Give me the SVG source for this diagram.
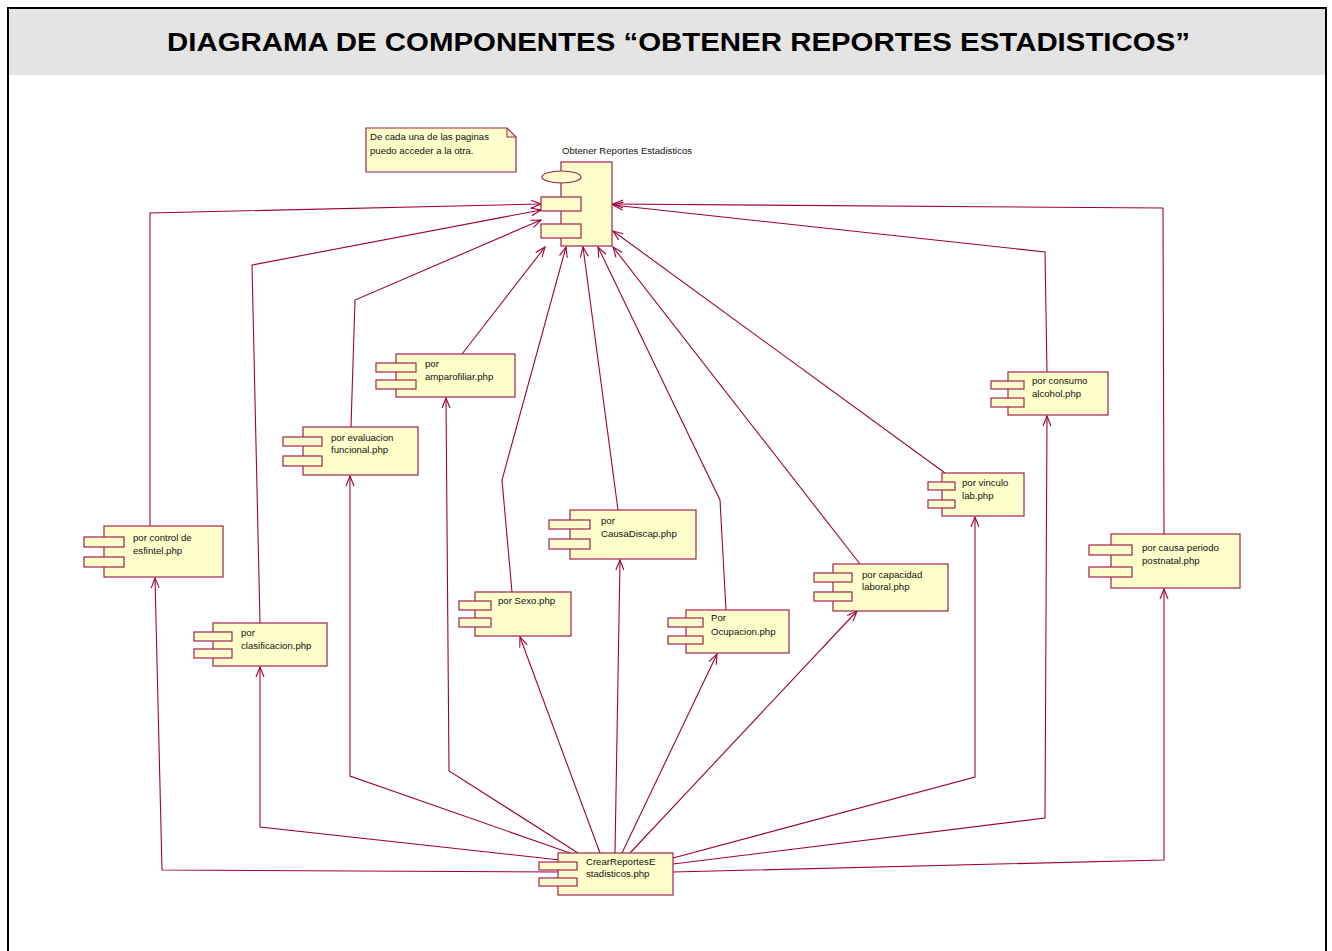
<svg xmlns="http://www.w3.org/2000/svg" width="1332" height="951" viewBox="0 0 1332 951">
  <style>
    .frame { fill: none; stroke: #000; stroke-width: 2; }
    .band { fill: #e4e4e4; }
    .title { font-family: "Liberation Sans", Arial, sans-serif; font-weight: bold; font-size: 26px; fill: #000; }
    .body { fill: #ffffcc; stroke: #a3204f; stroke-width: 1.2; }
    .port { fill: #ffffcc; stroke: #a3204f; stroke-width: 1.2; }
    .note { fill: #ffffcc; stroke: #a3204f; stroke-width: 1.2; }
    .lbl { font-family: "Liberation Sans", Arial, sans-serif; font-size: 9.6px; fill: #111; }
    .dep { fill: none; stroke: #a0003a; stroke-width: 1.1; marker-end: url(#open); }
  </style>
  <defs>
    <marker id="open" viewBox="0 0 12 10" refX="11" refY="5" markerWidth="12" markerHeight="10" markerUnits="userSpaceOnUse" orient="auto">
      <path d="M1,1 L11,5 L1,9" fill="none" stroke="#a0003a" stroke-width="1.1"/>
    </marker>
  </defs>

  <rect x="0" y="0" width="1332" height="951" fill="#fff"/>
  <!-- title band and frame -->
  <rect class="band" x="8" y="8" width="1318" height="67"/>
  <path class="frame" d="M8,951 V8 H1326 V951"/>
  <text class="title" x="167" y="51" textLength="1023" lengthAdjust="spacingAndGlyphs">DIAGRAMA DE COMPONENTES “OBTENER REPORTES ESTADISTICOS”</text>

  <!-- dependencies -->
  <g id="connectors">
    <!-- pages to the main component -->
    <path class="dep" d="M150,527 V213 L541,204"/>
    <path class="dep" d="M260,623 L252,265 L541,210"/>
    <path class="dep" d="M351,427 L355,300 L541,220"/>
    <path class="dep" d="M462,354 L545,247"/>
    <path class="dep" d="M512,592 L502,480 L566,247"/>
    <path class="dep" d="M618,510 L583,247"/>
    <path class="dep" d="M726,610 L720,500 L598,247"/>
    <path class="dep" d="M860,564 L613,247"/>
    <path class="dep" d="M945,473 L613,231"/>
    <path class="dep" d="M1047,372 L1045,252 L613,205"/>
    <path class="dep" d="M1164,534 L1163,208 L613,204"/>
    <!-- report builder to the pages -->
    <path class="dep" d="M560,872 L162,870 L155,578"/>
    <path class="dep" d="M560,860 L260,827 L260,667"/>
    <path class="dep" d="M570,853 L350,776 L350,476"/>
    <path class="dep" d="M578,853 L449,771 L446,398"/>
    <path class="dep" d="M600,853 L520,637"/>
    <path class="dep" d="M615,853 L620,560"/>
    <path class="dep" d="M622,853 L717,654"/>
    <path class="dep" d="M630,853 L857,611"/>
    <path class="dep" d="M673,858 L975,777 L975,517"/>
    <path class="dep" d="M673,864 L1045,818 L1047,416"/>
    <path class="dep" d="M673,872 L1164,860 L1164,589"/>
  </g>

  <!-- note -->
  <g id="note">
    <path class="note" d="M366,128 H507 L516,137 V172 H366 Z"/>
    <path d="M507,128 V137 H516" fill="none" stroke="#a3204f" stroke-width="1"/>
    <text class="lbl" x="370" y="140">De cada una de las paginas</text>
    <text class="lbl" x="370" y="154">puedo acceder a la otra.</text>
  </g>

  <!-- main component -->
  <g id="obtener-reportes">
    <text class="lbl" x="562" y="154">Obtener Reportes Estadisticos</text>
    <rect class="body" x="561" y="162" width="51" height="84"/>
    <ellipse class="port" cx="561.5" cy="177" rx="19.5" ry="6"/>
    <rect class="port" x="541" y="197" width="40" height="14"/>
    <rect class="port" x="541" y="224" width="40" height="14"/>
  </g>

  <g id="esfintel">
    <rect class="body" x="104" y="526" width="119" height="51"/>
    <rect class="port" x="84" y="537" width="40" height="10"/>
    <rect class="port" x="84" y="557" width="40" height="10"/>
    <text class="lbl" x="133" y="541">por control de</text>
    <text class="lbl" x="133" y="554">esfintel.php</text>
  </g>

  <g id="clasificacion">
    <rect class="body" x="213" y="623" width="114" height="43"/>
    <rect class="port" x="194" y="632" width="38" height="9"/>
    <rect class="port" x="194" y="649" width="38" height="9"/>
    <text class="lbl" x="241" y="636">por</text>
    <text class="lbl" x="241" y="649">clasificacion.php</text>
  </g>

  <g id="evaluacion">
    <rect class="body" x="303" y="427" width="115" height="48"/>
    <rect class="port" x="283" y="437" width="39" height="9"/>
    <rect class="port" x="283" y="456" width="39" height="10"/>
    <text class="lbl" x="331" y="441">por evaluacion</text>
    <text class="lbl" x="331" y="453">funcional.php</text>
  </g>

  <g id="amparofiliar">
    <rect class="body" x="396" y="354" width="119" height="43"/>
    <rect class="port" x="376" y="363" width="40" height="9"/>
    <rect class="port" x="376" y="380" width="40" height="9"/>
    <text class="lbl" x="425" y="367">por</text>
    <text class="lbl" x="425" y="380">amparofiliar.php</text>
  </g>

  <g id="sexo">
    <rect class="body" x="475" y="592" width="96" height="44"/>
    <rect class="port" x="459" y="601" width="32" height="9"/>
    <rect class="port" x="459" y="618" width="32" height="9"/>
    <text class="lbl" x="498" y="604">por Sexo.php</text>
  </g>

  <g id="causadiscap">
    <rect class="body" x="570" y="510" width="126" height="49"/>
    <rect class="port" x="549" y="520" width="41" height="9"/>
    <rect class="port" x="549" y="539" width="41" height="10"/>
    <text class="lbl" x="601" y="524">por</text>
    <text class="lbl" x="601" y="537">CausaDiscap.php</text>
  </g>

  <g id="ocupacion">
    <rect class="body" x="686" y="610" width="103" height="43"/>
    <rect class="port" x="668" y="618" width="35" height="9"/>
    <rect class="port" x="668" y="636" width="35" height="8"/>
    <text class="lbl" x="711" y="621">Por</text>
    <text class="lbl" x="711" y="635">Ocupacion.php</text>
  </g>

  <g id="capacidad">
    <rect class="body" x="833" y="564" width="115" height="47"/>
    <rect class="port" x="814" y="573" width="38" height="9"/>
    <rect class="port" x="814" y="592" width="38" height="9"/>
    <text class="lbl" x="862" y="578">por capacidad</text>
    <text class="lbl" x="862" y="590">laboral.php</text>
  </g>

  <g id="vinculo">
    <rect class="body" x="942" y="473" width="82" height="43"/>
    <rect class="port" x="928" y="482" width="27" height="8"/>
    <rect class="port" x="928" y="500" width="27" height="8"/>
    <text class="lbl" x="962" y="486">por vinculo</text>
    <text class="lbl" x="962" y="499">lab.php</text>
  </g>

  <g id="consumo-alcohol">
    <rect class="body" x="1008" y="372" width="100" height="43"/>
    <rect class="port" x="991" y="381" width="33" height="8"/>
    <rect class="port" x="991" y="398" width="33" height="9"/>
    <text class="lbl" x="1032" y="384">por consumo</text>
    <text class="lbl" x="1032" y="397">alcohol.php</text>
  </g>

  <g id="postnatal">
    <rect class="body" x="1111" y="534" width="129" height="54"/>
    <rect class="port" x="1089" y="545" width="43" height="10"/>
    <rect class="port" x="1089" y="567" width="43" height="10"/>
    <text class="lbl" x="1142" y="551">por causa periodo</text>
    <text class="lbl" x="1142" y="564">postnatal.php</text>
  </g>

  <g id="crear-reportes">
    <rect class="body" x="558" y="853" width="115" height="42"/>
    <rect class="port" x="539" y="862" width="38" height="8"/>
    <rect class="port" x="539" y="878" width="38" height="8"/>
    <text class="lbl" x="586" y="865">CrearReportesE</text>
    <text class="lbl" x="586" y="877">stadisticos.php</text>
  </g>
</svg>
